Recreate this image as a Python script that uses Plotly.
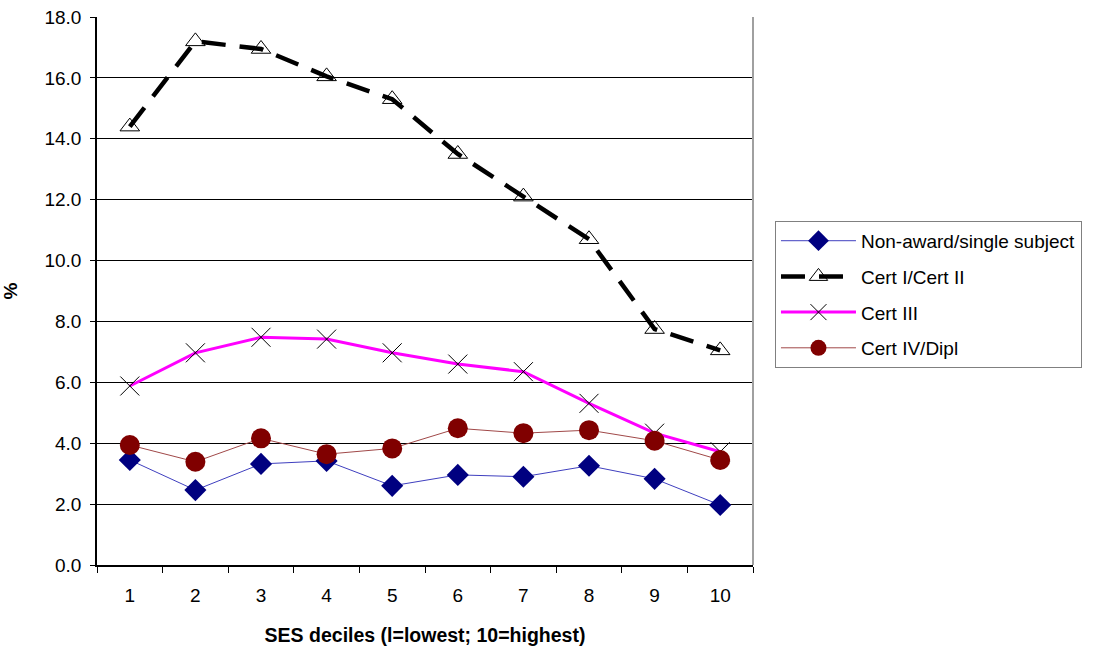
import plotly.graph_objects as go

deciles = ["1", "2", "3", "4", "5", "6", "7", "8", "9", "10"]
non_award = [3.45, 2.46, 3.32, 3.42, 2.60, 2.96, 2.90, 3.26, 2.83, 1.97]
cert_1_2 = [14.4, 17.2, 16.95, 16.05, 15.3, 13.5, 12.1, 10.7, 7.75, 7.05]
cert_3 = [5.88, 6.97, 7.48, 7.42, 6.97, 6.60, 6.35, 5.31, 4.33, 3.72]
cert_4_dipl = [3.94, 3.39, 4.16, 3.64, 3.83, 4.49, 4.33, 4.43, 4.08, 3.45]
y_ticks = [0, 2, 4, 6, 8, 10, 12, 14, 16, 18]

FONT = "Liberation Sans, Arial, sans-serif"

fig = go.Figure()
fig.add_trace(go.Scatter(
    x=deciles, y=non_award, name="Non-award/single subject", mode="lines+markers",
    legendgroup="a",
    line=dict(color="#3F3FBF", width=1),
    marker=dict(symbol="diamond", size=17, color="#000080"),
))
fig.add_trace(go.Scatter(
    x=deciles, y=cert_1_2, name="Cert I/Cert II", mode="lines+markers",
    legendgroup="b",
    line=dict(color="black", width=4.5, dash="24px,14px"),
    marker=dict(symbol="triangle-up-open", size=17, color="black", line=dict(width=1, color="black")),
))
fig.add_trace(go.Scatter(
    x=deciles, y=cert_3, name="Cert III", mode="lines+markers",
    legendgroup="c",
    line=dict(color="#FF00FF", width=3),
    marker=dict(symbol="x-thin-open", size=19, color="black", line=dict(width=1, color="#333333")),
))
fig.add_trace(go.Scatter(
    x=deciles, y=cert_4_dipl, name="Cert IV/Dipl", mode="lines+markers",
    legendgroup="d",
    line=dict(color="#A04848", width=1),
    marker=dict(symbol="circle", size=20, color="#800000"),
))

fig.update_layout(
    width=1093, height=650,
    margin=dict(l=97, r=340, t=17, b=85, autoexpand=False),
    paper_bgcolor="white", plot_bgcolor="white",
    font=dict(family=FONT, size=19, color="black"),
    showlegend=True,
    legend=dict(
        x=1.0335, y=0.628, xanchor="left", yanchor="top",
        bordercolor="#808080", borderwidth=1, bgcolor="white",
        font=dict(size=19), itemwidth=75, tracegroupgap=8,
    ),
    xaxis=dict(
        type="category", range=[-0.5, 9.5], automargin=False,
        showline=True, linecolor="black", linewidth=1.5, mirror=False,
        ticks="outside", ticklen=6, tickcolor="black", tickson="boundaries",
        ticklabelstandoff=12,
        showgrid=False, zeroline=False,
        title=dict(text="<b>SES deciles (l=lowest; 10=highest)</b>", font=dict(size=19.5), standoff=24),
    ),
    yaxis=dict(
        range=[0, 18], tickvals=y_ticks, tickformat=".1f", automargin=False,
        showline=True, linecolor="black", linewidth=1.5,
        ticks="outside", ticklen=5, tickcolor="black", ticklabelstandoff=5,
        showgrid=True, gridcolor="black", gridwidth=1, zeroline=False,
        title=dict(text="<b>%</b>", font=dict(size=19), standoff=22),
    ),
)
# gray right border of plot area
fig.add_shape(type="line", xref="paper", yref="paper", x0=1, x1=1, y0=0, y1=1,
              line=dict(color="#A0A0A0", width=2))

fig.write_html("out.html")
